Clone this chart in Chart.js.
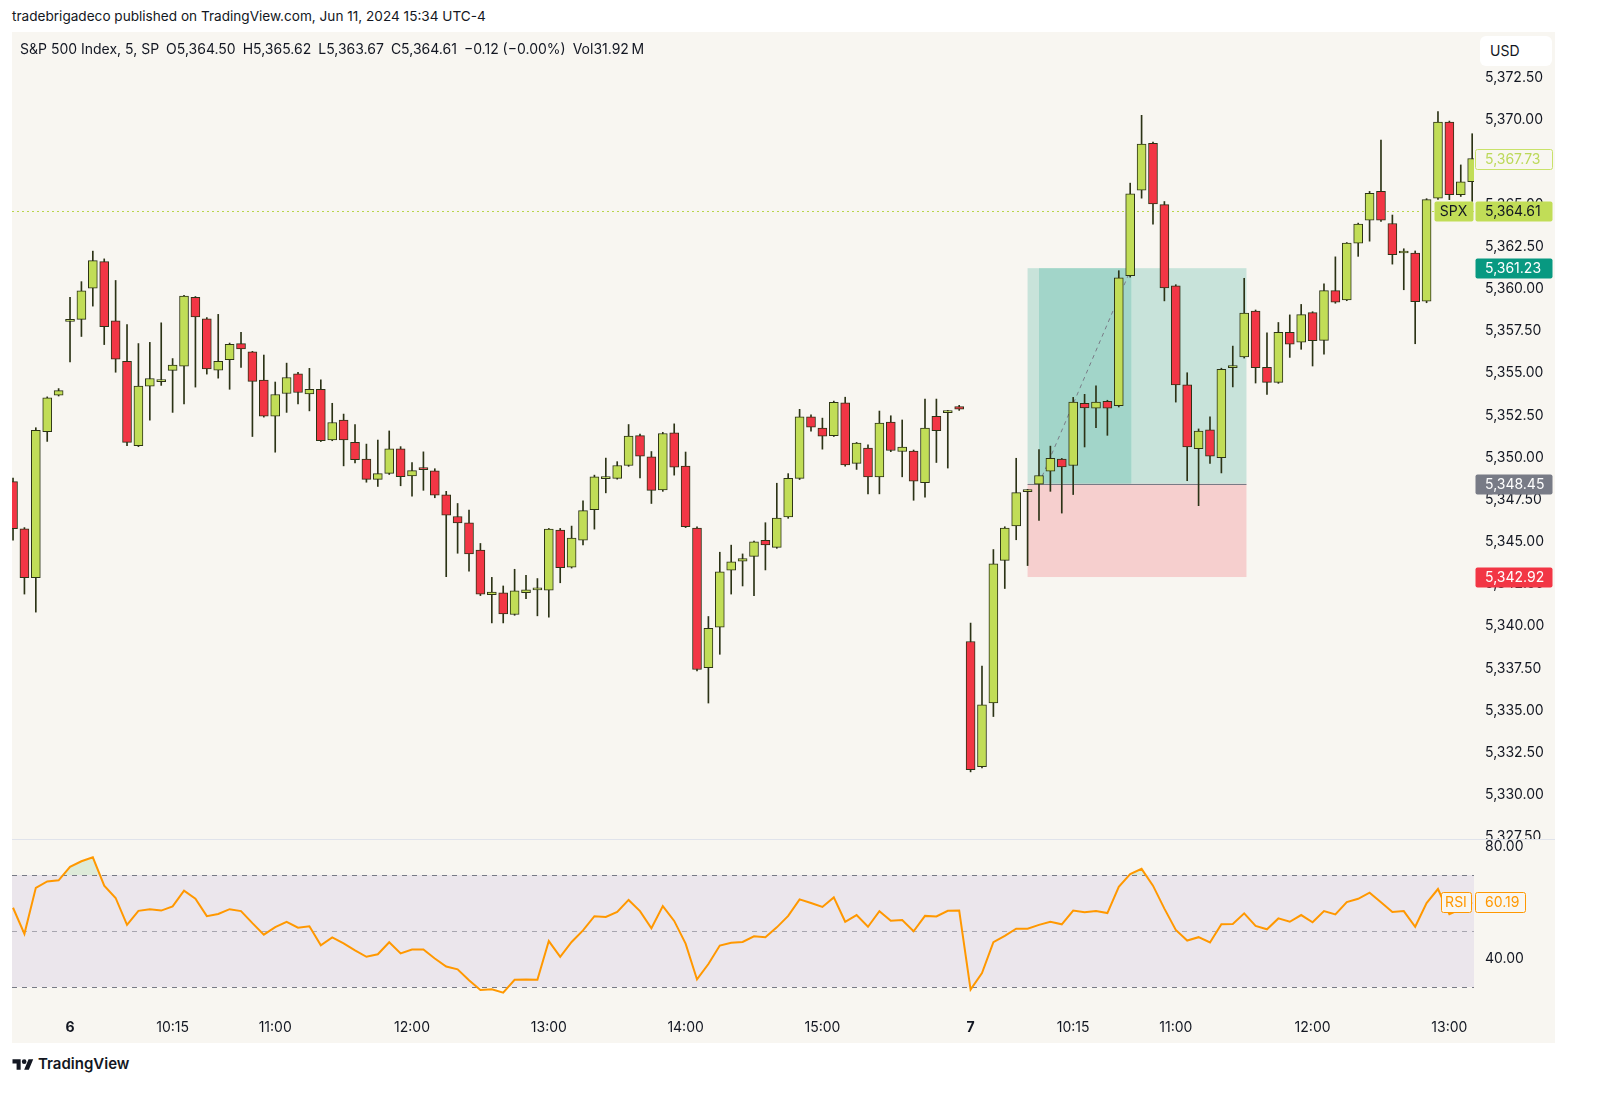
<!DOCTYPE html>
<html lang="en">
<head>
<meta charset="UTF-8">
<title>S&amp;P 500 Index, 5 - RSI</title>
<script src="https://cdn.jsdelivr.net/npm/chart.js"></script>
<style>
  body { margin: 0; background: #fff; font-family: Inter, "Noto Sans", Arial, sans-serif; color: #131722; }
  .abs { position: absolute; }
  #title { left: 12px; top: 8px; font-size: 13.6px; }
  #panel { left: 12px; top: 32px; width: 1543px; height: 1011px; background: #f8f6f1; }
  #main { left: 12px; top: 32px; width: 1543px; height: 807px; }
  #sep { left: 12px; top: 839px; width: 1543px; height: 1px; background: #e0e3eb; }
  #rsi { left: 12px; top: 840px; width: 1543px; height: 203px; }
  #legend { left: 20px; top: 40px; font-size: 14px; white-space: nowrap; }
  #legend span { margin-right: 7px; }
  #usd { left: 1480px; top: 36px; width: 72px; height: 30px; background: #fff; border-radius: 6px;
         font-size: 14px; line-height: 30px; padding-left: 10px; box-sizing: border-box; }
  #logo { left: 12px; top: 1054px; font-size: 15px; font-weight: 600; display: flex; align-items: center; gap: 4px; }
</style>
</head>
<body>
  <div id="title" class="abs">tradebrigadeco published on TradingView.com, Jun 11, 2024 15:34 UTC-4</div>
  <div id="panel" class="abs"></div>
  <div id="main" class="abs"><canvas id="mainChart"></canvas></div>
  <div id="sep" class="abs"></div>
  <div id="rsi" class="abs"><canvas id="rsiChart"></canvas></div>
  <div id="legend" class="abs"><span>S&amp;P 500 Index, 5, SP</span><span>O5,364.50</span><span>H5,365.62</span><span>L5,363.67</span><span>C5,364.61</span><span>&minus;0.12 (&minus;0.00%)</span><span>Vol31.92&#8201;M</span></div>
  <div id="usd" class="abs">USD</div>
  <div id="logo" class="abs">
    <svg width="22" height="14" viewBox="0 0 36 24"><path d="M14 22H7V11H0V4h14v18zM28 22h-8l7.5-18h8L28 22z" fill="#131722"/><circle cx="20" cy="8" r="4" fill="#131722"/></svg>
    <span>TradingView</span>
  </div>

<script>
// 5-minute bars: 15:40-16:00 Jun 5, Jun 6 09:30-16:00, Jun 7 09:30-13:10
const opens = [
  5348.58, 5345.78, 5342.88, 5351.53, 5353.70, 5358.08, 5358.19, 5360.04, 5361.62, 5358.11,
  5355.71, 5350.70, 5354.23, 5354.50, 5355.17, 5355.42, 5359.50, 5358.22, 5355.19, 5355.81,
  5356.76, 5356.27, 5354.59, 5352.45, 5353.80, 5354.96, 5353.78, 5354.05, 5351.05, 5352.23,
  5350.90, 5349.91, 5348.71, 5349.06, 5350.52, 5348.91, 5349.41, 5349.22, 5347.79, 5346.51,
  5346.13, 5344.52, 5341.88, 5341.99, 5340.70, 5341.99, 5342.16, 5342.14, 5345.70, 5343.51,
  5345.11, 5346.92, 5348.75, 5348.77, 5349.53, 5351.30, 5350.04, 5348.08, 5351.47, 5349.49,
  5345.82, 5337.54, 5339.95, 5343.32, 5343.86, 5344.14, 5345.09, 5344.68, 5346.48, 5348.77,
  5352.42, 5351.75, 5351.30, 5353.24, 5349.66, 5350.57, 5348.86, 5352.10, 5350.36, 5350.38,
  5348.52, 5352.44, 5352.67, 5353.02, 5339.10, 5331.68, 5335.46, 5343.91, 5345.95, 5347.98,
  5348.43, 5349.19, 5349.91, 5349.53, 5353.21, 5352.93, 5353.34, 5353.08, 5360.78, 5365.86,
  5368.63, 5365.00, 5360.19, 5354.31, 5350.53, 5351.65, 5350.00, 5355.33, 5355.97, 5358.69,
  5355.35, 5354.46, 5357.43, 5356.85, 5358.59, 5356.95, 5359.90, 5359.34, 5362.71, 5364.07,
  5365.78, 5363.88, 5362.13, 5362.13, 5359.28, 5365.38, 5369.89, 5365.58, 5366.35
];
const highs = [
  5348.78, 5345.85, 5351.77, 5353.60, 5354.09, 5359.50, 5360.43, 5362.24, 5361.78, 5360.50,
  5357.88, 5356.76, 5356.83, 5357.99, 5355.87, 5359.62, 5359.55, 5358.30, 5358.49, 5356.79,
  5357.42, 5356.30, 5356.08, 5354.48, 5355.60, 5355.06, 5355.29, 5354.61, 5353.22, 5352.58,
  5351.96, 5350.80, 5351.04, 5351.58, 5350.65, 5349.70, 5350.34, 5349.34, 5348.00, 5347.28,
  5346.89, 5344.91, 5342.90, 5342.39, 5343.38, 5343.02, 5342.83, 5345.80, 5345.80, 5345.94,
  5347.43, 5348.96, 5349.97, 5349.76, 5351.96, 5351.39, 5350.36, 5351.50, 5352.00, 5350.33,
  5345.90, 5340.58, 5344.39, 5344.81, 5344.29, 5345.05, 5346.14, 5348.48, 5349.05, 5352.86,
  5352.53, 5352.34, 5353.35, 5353.58, 5350.90, 5350.76, 5352.76, 5352.48, 5352.23, 5350.45,
  5353.47, 5353.47, 5352.80, 5353.10, 5340.19, 5337.64, 5344.55, 5345.90, 5349.96, 5348.12,
  5350.47, 5350.68, 5349.95, 5353.57, 5353.75, 5354.26, 5353.40, 5361.08, 5366.27, 5370.29,
  5368.70, 5365.18, 5360.25, 5355.03, 5351.70, 5352.42, 5355.30, 5356.61, 5360.63, 5358.75,
  5357.39, 5358.01, 5358.46, 5359.08, 5358.65, 5360.30, 5361.90, 5362.75, 5363.90, 5365.78,
  5368.82, 5364.38, 5362.38, 5362.25, 5365.35, 5370.51, 5369.95, 5367.35, 5369.20
];
const lows = [
  5345.11, 5341.91, 5340.84, 5350.96, 5353.65, 5355.67, 5357.18, 5358.98, 5356.70, 5355.06,
  5350.70, 5350.65, 5352.22, 5354.28, 5352.68, 5353.18, 5354.18, 5354.95, 5354.71, 5354.05,
  5355.35, 5351.25, 5352.40, 5350.32, 5352.68, 5353.18, 5352.77, 5350.95, 5351.00, 5349.51,
  5349.69, 5348.54, 5348.29, 5349.00, 5348.33, 5347.71, 5348.06, 5347.62, 5342.94, 5344.33,
  5343.27, 5341.82, 5340.20, 5340.20, 5340.65, 5341.63, 5340.62, 5340.54, 5342.58, 5343.45,
  5344.82, 5345.76, 5347.91, 5348.72, 5349.48, 5348.80, 5347.28, 5348.00, 5348.96, 5345.85,
  5337.35, 5335.45, 5338.34, 5341.91, 5342.39, 5341.82, 5343.34, 5344.62, 5346.40, 5348.70,
  5351.56, 5350.50, 5351.25, 5349.49, 5349.30, 5347.85, 5347.85, 5350.35, 5348.86, 5347.47,
  5347.66, 5349.71, 5349.38, 5352.80, 5331.37, 5331.60, 5334.65, 5342.24, 5345.13, 5343.60,
  5346.28, 5348.00, 5346.71, 5347.81, 5350.63, 5351.78, 5351.32, 5353.00, 5360.70, 5365.38,
  5363.84, 5359.29, 5353.29, 5348.63, 5347.15, 5349.66, 5349.09, 5354.19, 5355.90, 5354.42,
  5353.75, 5354.40, 5355.94, 5356.42, 5355.43, 5356.13, 5359.15, 5359.30, 5361.93, 5362.83,
  5364.00, 5361.47, 5359.95, 5356.75, 5359.18, 5365.30, 5365.29, 5365.48, 5365.19
];
const closes = [
  5345.78, 5342.88, 5351.61, 5353.55, 5353.97, 5358.12, 5359.89, 5361.68, 5357.76, 5355.83,
  5350.90, 5354.24, 5354.69, 5354.54, 5355.48, 5359.57, 5358.34, 5355.25, 5355.71, 5356.72,
  5356.44, 5354.52, 5352.45, 5353.74, 5354.75, 5353.86, 5354.05, 5351.00, 5352.08, 5351.05,
  5349.87, 5348.71, 5349.05, 5350.52, 5348.87, 5349.23, 5349.29, 5347.77, 5346.59, 5346.13,
  5344.29, 5341.91, 5342.03, 5340.73, 5342.10, 5342.16, 5342.20, 5345.76, 5343.47, 5345.23,
  5346.86, 5348.86, 5348.79, 5349.53, 5351.27, 5350.08, 5348.06, 5351.43, 5349.43, 5345.91,
  5337.44, 5339.88, 5343.23, 5343.82, 5344.01, 5345.00, 5344.82, 5346.41, 5348.77, 5352.42,
  5351.81, 5351.27, 5353.28, 5349.57, 5350.86, 5348.86, 5352.04, 5350.42, 5350.63, 5348.61,
  5351.75, 5351.60, 5352.76, 5352.87, 5331.50, 5335.34, 5343.70, 5345.82, 5347.92, 5348.02,
  5348.94, 5349.96, 5349.45, 5353.29, 5352.95, 5353.29, 5352.93, 5360.65, 5365.64, 5368.58,
  5365.04, 5360.06, 5354.31, 5350.63, 5351.57, 5350.09, 5355.24, 5355.37, 5358.56, 5355.33,
  5354.46, 5357.43, 5356.73, 5358.48, 5356.93, 5359.90, 5359.22, 5362.71, 5363.84, 5365.66,
  5364.07, 5362.03, 5362.17, 5359.24, 5365.29, 5369.89, 5365.58, 5366.35, 5367.73
];
const rsi = [
  58.3, 49.0, 65.4, 67.7, 68.1, 72.9, 74.9, 76.3, 66.2, 61.8,
  52.2, 57.2, 57.8, 57.3, 58.8, 64.4, 61.5, 55.3, 56.1, 57.8,
  57.1, 52.8, 48.7, 51.4, 53.3, 51.2, 51.7, 44.9, 47.7, 45.6,
  43.1, 40.8, 41.7, 46.0, 42.0, 43.4, 43.4, 40.2, 37.3, 36.3,
  32.4, 28.9, 29.2, 28.0, 32.6, 32.7, 32.6, 46.4, 40.8, 46.1,
  50.2, 55.3, 55.0, 56.8, 61.1, 57.1, 51.0, 58.9, 53.6, 45.5,
  32.7, 38.2, 44.8, 45.8, 46.1, 48.1, 47.8, 51.3, 55.4, 61.3,
  60.0, 58.6, 62.0, 53.3, 55.7, 51.5, 57.1, 53.7, 53.9, 49.9,
  55.4, 55.2, 57.2, 57.3, 29.1, 35.0, 46.0, 48.3, 50.8, 50.8,
  52.2, 53.3, 52.4, 57.3, 56.7, 57.1, 56.4, 65.8, 70.3, 72.2,
  66.2, 58.0, 50.4, 46.6, 47.8, 45.9, 52.4, 52.5, 56.3, 51.8,
  50.6, 54.5, 53.3, 55.7, 53.1, 57.1, 55.9, 60.3, 61.5, 63.7,
  60.3, 56.8, 57.1, 51.5, 60.0, 65.0, 56.0, 57.8, 60.19
];

const tickIdx = [5, 14, 23, 35, 47, 59, 71, 84, 93, 102, 114, 126];
const tickLabels = ['6', '10:15', '11:00', '12:00', '13:00', '14:00', '15:00', '7', '10:15', '11:00', '12:00', '13:00'];
const priceTicks = [5327.5, 5330, 5332.5, 5335, 5337.5, 5340, 5342.5, 5345, 5347.5, 5350, 5352.5,
                    5355, 5357.5, 5360, 5362.5, 5365, 5367.5, 5370, 5372.5];
const rsiTicks = [80, 40];
const rsiLevels = [70, 50, 30];

// long position tool
const entryPrice = 5348.45, targetPrice = 5361.23, stopPrice = 5342.92;
const posFrom = 89, posTo = 108.2, hitFrom = 90, hitTo = 98.1;
const lastPrice = 5367.73, spxPrice = 5364.61;

const GREEN = '#c1dd57', RED = '#f23645', EDGE = '#2c3316', BG = '#f8f6f1';
const xMin = -0.09, xMax = 128.16;
const FONT = 'Inter, "Noto Sans", sans-serif';

Chart.defaults.font.family = FONT;
Chart.defaults.font.size = 14;
Chart.defaults.color = '#131722';

const fmt = v => v.toLocaleString('en-US', { minimumFractionDigits: 2, maximumFractionDigits: 2 });

// axes keep their full box: no extra room for the end labels
function fitY(s) { s.width = 81; s.paddingTop = 0; s.paddingBottom = 0; }
function fitX(s) { s.height = 33; s.paddingLeft = 0; s.paddingRight = 0; }

function tag(ctx, left, w, yc, text, fill, stroke, color, center) {
  const h = 20, top = Math.round(yc - h / 2) + 0.5;
  ctx.beginPath();
  ctx.roundRect(left + 0.5, top, w, h, 2);
  ctx.fillStyle = fill;
  ctx.fill();
  if (stroke) { ctx.strokeStyle = stroke; ctx.lineWidth = 1; ctx.stroke(); }
  ctx.fillStyle = color;
  ctx.font = '14px ' + FONT;
  ctx.textBaseline = 'middle';
  ctx.textAlign = center ? 'center' : 'left';
  ctx.fillText(text, center ? left + w / 2 : left + 10, top + h / 2 + 0.5);
}

const mainOverlay = {
  id: 'mainOverlay',
  beforeDatasetsDraw(chart) {
    const { ctx, chartArea: a, scales: { x, y } } = chart;
    const x0 = x.getPixelForValue(posFrom), x1 = x.getPixelForValue(posTo);
    const h0 = x.getPixelForValue(hitFrom), h1 = x.getPixelForValue(hitTo);
    const yt = y.getPixelForValue(targetPrice), ye = y.getPixelForValue(entryPrice), ys = y.getPixelForValue(stopPrice);
    ctx.save();
    ctx.fillStyle = 'rgba(8,153,129,0.2)';
    ctx.fillRect(x0, yt, x1 - x0, ye - yt);
    ctx.fillRect(h0, yt, h1 - h0, ye - yt);
    ctx.fillStyle = 'rgba(242,54,69,0.2)';
    ctx.fillRect(x0, ye, x1 - x0, ys - ye);
    ctx.strokeStyle = '#787b86';
    ctx.lineWidth = 1;
    ctx.beginPath();
    ctx.moveTo(x0, Math.round(ye) + 0.5);
    ctx.lineTo(x1, Math.round(ye) + 0.5);
    ctx.stroke();
    ctx.setLineDash([4, 4]);
    ctx.beginPath();
    ctx.moveTo(h0, ye);
    ctx.lineTo(h1, yt);
    ctx.stroke();
    // last price line
    const yl = Math.round(y.getPixelForValue(spxPrice)) + 0.5;
    ctx.strokeStyle = '#b9d64c';
    ctx.setLineDash([2, 3]);
    ctx.beginPath();
    ctx.moveTo(a.left, yl);
    ctx.lineTo(a.right, yl);
    ctx.stroke();
    ctx.restore();
  },
  afterDraw(chart) {
    const { ctx, chartArea: a, scales: { y } } = chart;
    const L = a.right + 1, W = 77;
    ctx.save();
    tag(ctx, L, W, y.getPixelForValue(lastPrice), fmt(lastPrice), BG, '#c9e26a', '#bcd95a');
    tag(ctx, a.right - 40, 39, y.getPixelForValue(spxPrice), 'SPX', GREEN, null, '#131722', true);
    tag(ctx, L, W, y.getPixelForValue(spxPrice), fmt(spxPrice), GREEN, null, '#131722');
    tag(ctx, L, W, y.getPixelForValue(targetPrice), fmt(targetPrice), '#089981', null, '#ffffff');
    tag(ctx, L, W, y.getPixelForValue(entryPrice), fmt(entryPrice), '#787b86', null, '#ffffff');
    tag(ctx, L, W, y.getPixelForValue(stopPrice), fmt(stopPrice), RED, null, '#ffffff');
    ctx.restore();
  }
};

const rsiOverlay = {
  id: 'rsiOverlay',
  beforeDatasetsDraw(chart) {
    const { ctx, chartArea: a, scales: { y } } = chart;
    const yTop = y.getPixelForValue(rsiLevels[0]), yBot = y.getPixelForValue(rsiLevels[2]);
    ctx.save();
    ctx.fillStyle = 'rgba(126,87,194,0.1)';
    ctx.fillRect(a.left, yTop, a.right - a.left, yBot - yTop);
    ctx.lineWidth = 1;
    ctx.setLineDash([5, 5]);
    rsiLevels.forEach(v => {
      const yy = Math.round(y.getPixelForValue(v)) + 0.5;
      ctx.strokeStyle = v === 50 ? 'rgba(120,123,134,0.6)' : '#787b86';
      ctx.beginPath();
      ctx.moveTo(a.left, yy);
      ctx.lineTo(a.right, yy);
      ctx.stroke();
    });
    ctx.restore();
  },
  afterDraw(chart) {
    const { ctx, chartArea: a, scales: { y } } = chart;
    const last = rsi[rsi.length - 1];
    const yy = y.getPixelForValue(last);
    ctx.save();
    tag(ctx, a.right - 33, 30, yy, 'RSI', BG, '#ff9800', '#ff9800', true);
    tag(ctx, a.right + 1, 50, yy, last.toFixed(2), BG, '#ff9800', '#ff9800');
    ctx.restore();
  }
};

const idx = opens.map((_, i) => i);

new Chart(document.getElementById('mainChart'), {
  type: 'bar',
  data: {
    datasets: [
      {
        data: idx.map(i => ({ x: i, y: [lows[i], highs[i]] })),
        backgroundColor: EDGE,
        barThickness: 1,
        grouped: false,
        order: 2
      },
      {
        data: idx.map(i => ({ x: i, y: [opens[i], closes[i]] })),
        backgroundColor: idx.map(i => closes[i] >= opens[i] ? GREEN : RED),
        borderColor: EDGE,
        borderWidth: 1,
        borderSkipped: false,
        barThickness: 9,
        minBarLength: 2,
        grouped: false,
        order: 1
      }
    ]
  },
  options: {
    responsive: true,
    maintainAspectRatio: false,
    animation: false,
    layout: { padding: 0 },
    plugins: { legend: { display: false }, tooltip: { enabled: false } },
    scales: {
      x: { type: 'linear', min: xMin, max: xMax, offset: false, display: false },
      y: {
        position: 'right',
        min: 5327.39,
        max: 5375.23,
        grid: { display: false, drawTicks: false },
        border: { display: false },
        afterFit: fitY,
        afterBuildTicks: s => { s.ticks = priceTicks.map(v => ({ value: v })); },
        ticks: { padding: 11, color: '#131722', callback: v => fmt(v) }
      }
    }
  },
  plugins: [mainOverlay]
});

new Chart(document.getElementById('rsiChart'), {
  type: 'line',
  data: {
    datasets: [{
      data: idx.map(i => ({ x: i, y: rsi[i] })),
      borderColor: '#ff9800',
      borderWidth: 2,
      pointRadius: 0,
      tension: 0,
      fill: { target: { value: 70 }, above: 'rgba(76,175,80,0.15)', below: 'rgba(0,0,0,0)' }
    }]
  },
  options: {
    responsive: true,
    maintainAspectRatio: false,
    animation: false,
    layout: { padding: 0 },
    plugins: { legend: { display: false }, tooltip: { enabled: false } },
    scales: {
      x: {
        type: 'linear', min: xMin, max: xMax, offset: false,
        grid: { display: false, drawTicks: false },
        border: { display: false },
        afterBuildTicks: s => { s.ticks = tickIdx.map(v => ({ value: v })); },
        afterFit: fitX,
        ticks: {
          autoSkip: false, maxRotation: 0, padding: 9,
          callback: (v, k) => tickLabels[k],
          font: c => ({ size: 14, weight: /^\d$/.test(tickLabels[c.index] || '') ? 'bold' : 'normal' })
        }
      },
      y: {
        position: 'right', min: 21.79, max: 82.5,
        grid: { display: false, drawTicks: false },
        border: { display: false },
        afterFit: fitY,
        afterBuildTicks: s => { s.ticks = rsiTicks.map(v => ({ value: v })); },
        ticks: { padding: 11, callback: v => v.toFixed(2) }
      }
    }
  },
  plugins: [rsiOverlay]
});
</script>
</body>
</html>
